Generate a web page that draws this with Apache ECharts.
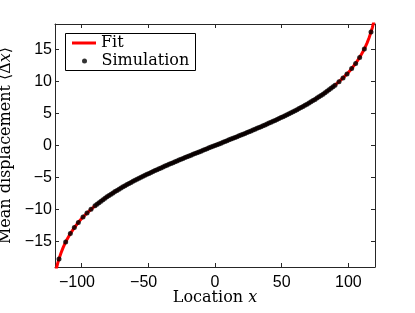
<!DOCTYPE html>
<html>
<head>
<meta charset="utf-8">
<script src="https://cdn.jsdelivr.net/npm/echarts@6/dist/echarts.min.js"></script>
<style>
html,body{margin:0;padding:0;background:#fff;}
#c{width:415px;height:313px;}
</style>
</head>
<body>
<div id="c"></div>
<script>
// Tick labels
var xTicks = [-100, -50, 0, 50, 100];
var yTicks = [-15, -10, -5, 0, 5, 10, 15];

// Fit curve (red line)
var fitX = [-120, -119, -118, -117, -115.5, -114, -112.5, -111, -109.5, -108, -105, -102, -99, -96, -93, -90, -87, -84, -81, -78, -75, -72, -69, -66, -63, -60, -57, -54, -51, -48, -45, -42, -39, -36, -33, -30, -27, -24, -21, -18, -15, -12, -9, -6, -3, 0, 3, 6, 9, 12, 15, 18, 21, 24, 27, 30, 33, 36, 39, 42, 45, 48, 51, 54, 57, 60, 63, 66, 69, 72, 75, 78, 81, 84, 87, 90, 93, 96, 99, 102, 105, 108, 109.5, 111, 112.5, 114, 115.5, 117, 118, 119, 120];
var fitY = [-20.24, -19.27, -18.44, -17.73, -16.80, -16.01, -15.31, -14.69, -14.13, -13.61, -12.70, -11.90, -11.20, -10.56, -9.98, -9.44, -8.94, -8.47, -8.03, -7.61, -7.21, -6.83, -6.46, -6.11, -5.77, -5.44, -5.12, -4.81, -4.51, -4.21, -3.92, -3.64, -3.36, -3.08, -2.81, -2.55, -2.28, -2.02, -1.76, -1.51, -1.25, -1.00, -0.75, -0.50, -0.25, 0, 0.25, 0.50, 0.75, 1.00, 1.25, 1.51, 1.76, 2.02, 2.28, 2.55, 2.81, 3.08, 3.36, 3.64, 3.92, 4.21, 4.51, 4.81, 5.12, 5.44, 5.77, 6.11, 6.46, 6.83, 7.21, 7.61, 8.03, 8.47, 8.94, 9.44, 9.98, 10.56, 11.20, 11.90, 12.70, 13.61, 14.13, 14.69, 15.31, 16.01, 16.80, 17.73, 18.44, 19.27, 20.24];

// Simulation points (black dots)
var simX = [-117, -112, -108.5, -105.5, -102.5, -99, -96, -93, -90,
  -88.5, -87, -85.5, -84, -82.5, -81, -79.5, -78, -76.5, -75, -73.5, -72, -70.5, -69, -67.5, -66, -64.5, -63, -61.5, -60,
  -58.5, -57, -55.5, -54, -52.5, -51, -49.5, -48, -46.5, -45, -43.5, -42, -40.5, -39, -37.5, -36, -34.5, -33, -31.5, -30,
  -28.5, -27, -25.5, -24, -22.5, -21, -19.5, -18, -16.5, -15, -13.5, -12, -10.5, -9, -7.5, -6, -4.5, -3, -1.5,
  0,
  1.5, 3, 4.5, 6, 7.5, 9, 10.5, 12, 13.5, 15, 16.5, 18, 19.5, 21, 22.5, 24, 25.5, 27, 28.5, 30,
  31.5, 33, 34.5, 36, 37.5, 39, 40.5, 42, 43.5, 45, 46.5, 48, 49.5, 51, 52.5, 54, 55.5, 57, 58.5, 60,
  61.5, 63, 64.5, 66, 67.5, 69, 70.5, 72, 73.5, 75, 76.5, 78, 79.5, 81, 82.5, 84, 85.5, 87, 88.5,
  90, 93, 96, 99, 102.5, 105.5, 108.5, 112, 117];
var simY = [-17.73, -15.10, -13.78, -12.84, -12.03, -11.20, -10.56, -9.98, -9.44,
  -9.18, -8.94, -8.70, -8.47, -8.25, -8.03, -7.81, -7.61, -7.41, -7.21, -7.02, -6.83, -6.64, -6.46, -6.28, -6.11, -5.94, -5.77, -5.60, -5.44,
  -5.28, -5.12, -4.96, -4.81, -4.66, -4.51, -4.36, -4.21, -4.06, -3.92, -3.78, -3.64, -3.50, -3.36, -3.22, -3.08, -2.95, -2.81, -2.68, -2.55,
  -2.41, -2.28, -2.15, -2.02, -1.89, -1.76, -1.64, -1.51, -1.38, -1.25, -1.13, -1.00, -0.88, -0.75, -0.62, -0.50, -0.37, -0.25, -0.12,
  0,
  0.12, 0.25, 0.37, 0.50, 0.62, 0.75, 0.88, 1.00, 1.13, 1.25, 1.38, 1.51, 1.64, 1.76, 1.89, 2.02, 2.15, 2.28, 2.41, 2.55,
  2.68, 2.81, 2.95, 3.08, 3.22, 3.36, 3.50, 3.64, 3.78, 3.92, 4.06, 4.21, 4.36, 4.51, 4.66, 4.81, 4.96, 5.12, 5.28, 5.44,
  5.60, 5.77, 5.94, 6.11, 6.28, 6.46, 6.64, 6.83, 7.02, 7.21, 7.41, 7.61, 7.81, 8.03, 8.25, 8.47, 8.70, 8.94, 9.18,
  9.44, 9.98, 10.56, 11.20, 12.03, 12.84, 13.78, 15.10, 17.73];

var fitData = fitX.map(function(x, i){ return [x, fitY[i]]; });
var simData = simX.map(function(x, i){ return [x, simY[i]]; });

var axisColor = '#262626';
var tickFont = 'Liberation Sans, Arial, sans-serif';
var serif = 'DejaVu Serif, serif';

function baseX(pos, showLabel) {
  return {
    type: 'value', position: pos, min: -120, max: 120,
    axisLine: { show: true, onZero: false, lineStyle: { color: axisColor, width: 1 } },
    axisTick: { show: true, inside: true, length: 4, customValues: xTicks, lineStyle: { color: axisColor } },
    axisLabel: showLabel ? {
      show: true, margin: 8, customValues: xTicks, color: '#000',
      fontFamily: tickFont, fontSize: 16,
      formatter: function(v){ return v < 0 ? '{t|\u2212' + Math.abs(v) + '}{h|\u2212}' : '{t|' + v + '}'; },
      rich: { t: { fontFamily: tickFont, fontSize: 16, color: '#000' }, h: { fontFamily: tickFont, fontSize: 16, color: 'rgba(0,0,0,0)' } }
    } : { show: false },
    splitLine: { show: false }
  };
}
function baseY(pos, showLabel) {
  return {
    type: 'value', position: pos, min: -19, max: 19,
    axisLine: { show: true, onZero: false, lineStyle: { color: axisColor, width: 1 } },
    axisTick: { show: true, inside: true, length: 4, customValues: yTicks, lineStyle: { color: axisColor } },
    axisLabel: showLabel ? {
      show: true, margin: 3, customValues: yTicks, color: '#000',
      fontFamily: tickFont, fontSize: 16,
      formatter: function(v){ return v < 0 ? '\u2212' + Math.abs(v) : String(v); }
    } : { show: false },
    splitLine: { show: false }
  };
}

var xMain = baseX('bottom', true);
xMain.name = 'Location {i|x}';
xMain.nameLocation = 'middle';
xMain.nameGap = 23;
xMain.nameMoveOverlap = false;
xMain.nameTextStyle = { fontFamily: serif, fontSize: 16, color: '#000',
  rich: { i: { fontFamily: serif, fontStyle: 'italic', fontSize: 16, color: '#000' } } };
var xTop = baseX('top', false);

var yMain = baseY('left', true);
yMain.name = 'Mean displacement \u27E8\u0394{i|x}\u27E9';
yMain.nameLocation = 'middle';
yMain.nameGap = 31;
yMain.nameTextStyle = { fontFamily: serif, fontSize: 16, color: '#000',
  rich: { i: { fontFamily: serif, fontStyle: 'italic', fontSize: 16, color: '#000' } } };
var yRight = baseY('right', false);

var legendText = { fontFamily: serif, fontSize: 16, color: '#000' };

var chart = echarts.init(document.getElementById('c'), null, { renderer: 'canvas' });
chart.setOption({
  backgroundColor: '#fff',
  animation: false,
  grid: { left: 55, right: 40, top: 24, bottom: 46, containLabel: false, outerBoundsMode: 'none' },
  xAxis: [xMain, xTop],
  yAxis: [yMain, yRight],
  graphic: [{
    type: 'rect', left: 65, top: 33, z: 5,
    shape: { width: 130, height: 37 },
    style: { fill: '#fff', stroke: '#000', lineWidth: 1 }
  }],
  legend: [{
    orient: 'vertical', left: 66, top: 35, z: 10,
    padding: [0, 0, 0, 6], itemWidth: 24, itemHeight: 3,
    textStyle: legendText,
    data: [ { name: 'Fit', icon: 'rect' } ]
  }, {
    orient: 'vertical', left: 76, top: 53, z: 10,
    padding: [0, 0, 0, 6], itemWidth: 24, itemHeight: 5,
    textStyle: legendText,
    data: [ { name: 'Simulation', icon: 'circle' } ]
  }],
  series: [
    { name: 'Fit', type: 'line', data: fitData, symbol: 'none', clip: true,
      lineStyle: { color: '#ff0000', width: 3 }, itemStyle: { color: '#ff0000' }, z: 2 },
    { name: 'Simulation', type: 'scatter', data: simData, symbol: 'circle', symbolSize: 5,
      itemStyle: { color: '#000' }, clip: true, z: 3 }
  ]
});
</script>
</body>
</html>
